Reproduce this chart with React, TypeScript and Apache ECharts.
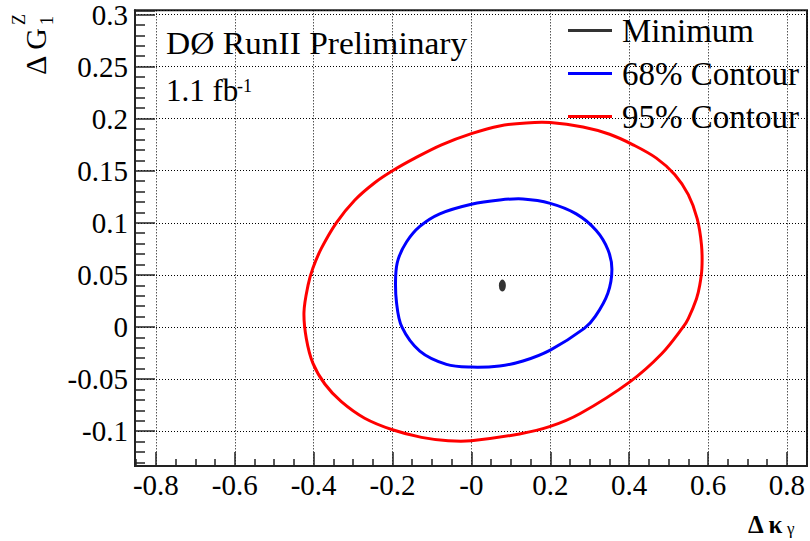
import React, { useEffect, useRef } from 'react';
import * as echarts from 'echarts';

const FONT = "'Liberation Serif', 'Times New Roman', serif";

// axis extents
const xExtent = [-0.853, 0.851];
const yExtent = [-0.1335, 0.304];

// 95% contour, read clockwise from the left edge
const contour95: [number, number][] = [
  [-0.4245, 0.0143], [-0.414, 0.0404], [-0.402, 0.0564], [-0.3805, 0.0754],
  [-0.3425, 0.1], [-0.296, 0.1217], [-0.2452, 0.1385], [-0.2, 0.15],
  [-0.1433, 0.1621], [-0.0757, 0.1749], [0.0, 0.1856], [0.0715, 0.193],
  [0.139, 0.1959], [0.2, 0.1962], [0.2829, 0.192], [0.3505, 0.185],
  [0.41, 0.1749], [0.469, 0.1621], [0.516, 0.1462], [0.55, 0.127],
  [0.5725, 0.104], [0.5835, 0.0786], [0.5845, 0.0564], [0.579, 0.04],
  [0.5708, 0.0271], [0.55, 0.008], [0.537, 0.0], [0.4825, -0.0257],
  [0.4018, -0.0527], [0.2761, -0.0831],
  [0.2, -0.0955], [0.122, -0.1027], [0.0, -0.1092],
  [-0.0588, -0.1092], [-0.1264, -0.106], [-0.2, -0.0987], [-0.2706, -0.0876],
  [-0.3298, -0.0717], [-0.3712, -0.055], [-0.4017, -0.035], [-0.4186, -0.0111],
];

// 68% contour, read clockwise from the left edge
const contour68: [number, number][] = [
  [-0.192, 0.049], [-0.1857, 0.0649], [-0.1646, 0.0816], [-0.1308, 0.0965],
  [-0.0802, 0.1086], [0.0, 0.1178], [0.0717, 0.1219], [0.1308, 0.1229],
  [0.2, 0.1187], [0.2658, 0.1086], [0.3165, 0.0927], [0.346, 0.0744],
  [0.3563, 0.0554], [0.346, 0.0324], [0.3142, 0.0101], [0.2863, -0.0014],
  [0.2, -0.0222], [0.1308, -0.0327], [0.0715, -0.0374], [0.0, -0.0385],
  [-0.0633, -0.0359], [-0.1308, -0.0232], [-0.1763, 0.0], [-0.19, 0.024],
];

const minimumPoint: [number, number][] = [[0.0785, 0.0397]];

const seriesNames = ['Minimum', '68% Contour', '95% Contour'];
const seriesColors = ['#000000', '#0000ff', '#ff0000'];

const frameColor = '#222';

// closed, smoothed ring through the read points, placed with the chart's own scales
const ringRenderer = (pts: [number, number][], color: string) => (params: any, api: any) => {
  if (params.dataIndex !== 0) return null;
  const points = pts.map((p) => api.coord(p));
  return {
    type: 'polygon',
    shape: { points, smooth: 0.35 },
    style: { fill: 'none', stroke: color, lineWidth: 3 },
    silent: true,
  };
};

export default function App() {
  const ref = useRef<HTMLDivElement>(null);
  useEffect(() => {
    if (!ref.current) return;
    const chart = echarts.init(ref.current, undefined, { renderer: 'svg' });
    const option: any = {
      animation: false,
      backgroundColor: '#fff',
      grid: {
        left: 135, right: 3, top: 8, bottom: 75,
        show: true, borderColor: frameColor, borderWidth: 2,
      },
      xAxis: {
        type: 'value', min: xExtent[0], max: xExtent[1], splitNumber: 8,
        axisLine: { show: true, onZero: false, lineStyle: { color: frameColor, width: 2 } },
        axisTick: { show: true, inside: true, length: 14, lineStyle: { color: frameColor, width: 1.5 } },
        minorTick: { show: true, splitNumber: 4, length: 7, lineStyle: { color: frameColor, width: 1.5 } },
        splitLine: { show: true, lineStyle: { color: '#000', type: [1, 2], width: 1 } },
        axisLabel: {
          fontSize: 29, fontFamily: FONT, color: '#000', margin: 4,
          showMinLabel: false, showMaxLabel: false,
          formatter: (v: number) => (Math.abs(v) < 1e-9 ? '-0' : String(Math.round(v * 10) / 10)),
        },
      },
      yAxis: {
        type: 'value', min: yExtent[0], max: yExtent[1], splitNumber: 8,
        axisLine: { show: true, onZero: false, lineStyle: { color: frameColor, width: 2 } },
        axisTick: { show: true, inside: true, length: 20, lineStyle: { color: frameColor, width: 1.5 } },
        minorTick: { show: true, splitNumber: 5, length: 10, lineStyle: { color: frameColor, width: 1.5 } },
        splitLine: { show: true, lineStyle: { color: '#000', type: [1, 2], width: 1 } },
        axisLabel: {
          fontSize: 29, fontFamily: FONT, color: '#000', margin: 7,
          showMinLabel: false, showMaxLabel: false,
          padding: [8, 0, 0, 0],
          formatter: (v: number) => String(Math.round(v * 100) / 100),
        },
      },
      legend: {
        data: seriesNames.map((n) => ({ name: n, icon: 'rect' })),
        orient: 'vertical', left: 568, top: 14, padding: 0,
        itemWidth: 44, itemHeight: 3, itemGap: 10, selectedMode: false,
        textStyle: { fontSize: 33, fontFamily: FONT, color: '#000', lineHeight: 32, padding: [0, 0, 0, 5] },
      },
      series: [
        {
          name: seriesNames[0], type: 'scatter', data: minimumPoint,
          symbol: 'circle', symbolSize: [7, 12],
          itemStyle: { color: seriesColors[0] }, z: 5,
        },
        {
          name: seriesNames[1], type: 'custom', data: contour68,
          encode: { x: 0, y: 1 },
          renderItem: ringRenderer(contour68, seriesColors[1]),
          itemStyle: { color: seriesColors[1] }, z: 3,
        },
        {
          name: seriesNames[2], type: 'custom', data: contour95,
          encode: { x: 0, y: 1 },
          renderItem: ringRenderer(contour95, seriesColors[2]),
          itemStyle: { color: seriesColors[2] }, z: 3,
        },
      ],
      graphic: [
        {
          type: 'text', x: 166, y: 43, scaleX: 1.08, silent: true,
          style: { text: 'DØ RunII Preliminary', fontSize: 31, fontFamily: FONT, fill: '#000', verticalAlign: 'middle' },
        },
        {
          type: 'text', x: 166, y: 90.5, silent: true,
          style: { text: '1.1 fb', fontSize: 31, fontFamily: FONT, fill: '#000', verticalAlign: 'middle' },
        },
        {
          type: 'text', x: 237, y: 86, silent: true,
          style: { text: '-1', fontSize: 18, fontFamily: FONT, fill: '#000', verticalAlign: 'middle' },
        },
        {
          type: 'group', x: 45, y: 75, rotation: Math.PI / 2, silent: true,
          children: [
            { type: 'text', x: 0, y: -10, style: { text: 'Δ G', fontSize: 30, fontFamily: FONT, fill: '#000', verticalAlign: 'middle' } },
            { type: 'text', x: 50, y: 2, style: { text: '1', fontSize: 18, fontFamily: FONT, fill: '#000', verticalAlign: 'middle' } },
            { type: 'text', x: 50, y: -26, style: { text: 'Z', fontSize: 18, fontFamily: FONT, fill: '#000', verticalAlign: 'middle' } },
          ],
        },
        {
          type: 'text', x: 748, y: 524, silent: true,
          style: { text: 'Δ κ', fontSize: 25, fontWeight: 'bold', fontFamily: FONT, fill: '#000', verticalAlign: 'middle' },
        },
        {
          type: 'text', x: 787, y: 528, silent: true,
          style: { text: 'γ', fontSize: 17, fontFamily: FONT, fill: '#000', verticalAlign: 'middle' },
        },
      ],
    };
    chart.setOption(option);
    return () => chart.dispose();
  }, []);
  return (
    <div
      ref={ref}
      style={{ position: 'absolute', left: 0, top: 0, width: 810, height: 541, background: '#fff' }}
    />
  );
}
